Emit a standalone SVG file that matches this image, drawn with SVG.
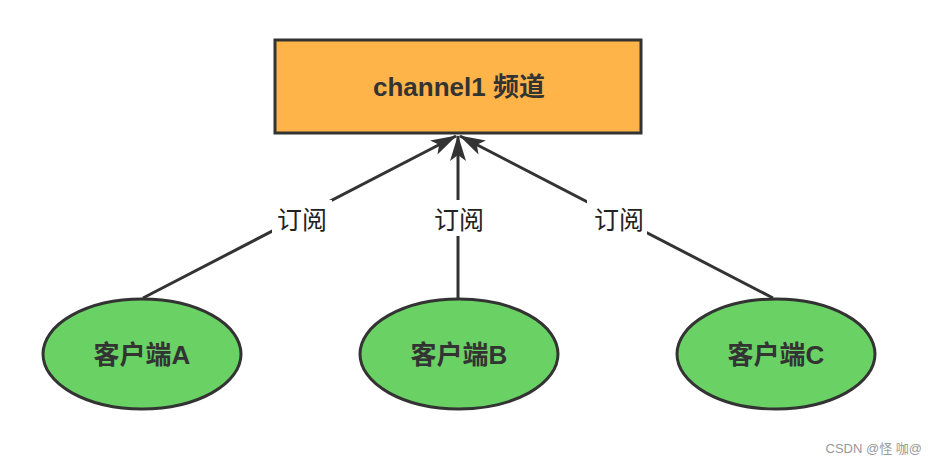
<svg xmlns="http://www.w3.org/2000/svg" width="936" height="465" viewBox="0 0 936 465">
<style>
.node{stroke:#333;stroke-width:3}
.t{font-family:"Liberation Sans","Noto Sans CJK SC",sans-serif;font-weight:bold;font-size:26px;fill:#333;text-anchor:middle;dominant-baseline:central}
.lbl{font-family:"Noto Sans CJK SC",sans-serif;font-size:25px;fill:#222;text-anchor:middle;dominant-baseline:central}
.edge{stroke:#333;stroke-width:3;fill:none}
</style>
<defs>
<marker id="arr" viewBox="0 0 26 16" refX="25" refY="8" markerWidth="26" markerHeight="16" orient="auto" markerUnits="userSpaceOnUse">
<path d="M0,0 L26,8 L0,16 L6,8 Z" fill="#333"/>
</marker>
</defs>
<rect width="936" height="465" fill="#fff"/>
<g id="connectors">
<line class="edge" x1="143" y1="298" x2="456" y2="136" marker-end="url(#arr)"/>
<line class="edge" x1="458" y1="298" x2="458" y2="136" marker-end="url(#arr)"/>
<line class="edge" x1="773" y1="298" x2="460" y2="136" marker-end="url(#arr)"/>
<rect x="272" y="200" width="60" height="36" fill="#fff"/>
<rect x="429" y="200" width="60" height="36" fill="#fff"/>
<rect x="587" y="200" width="60" height="36" fill="#fff"/>
<text class="lbl" x="302" y="218">订阅</text>
<text class="lbl" x="459" y="218">订阅</text>
<text class="lbl" x="619" y="218">订阅</text>
</g>
<g id="channel">
<rect class="node" x="275" y="40" width="366" height="93" fill="#FFB449"/>
<text class="t" x="459" y="87">channel1 频道</text>
</g>
<g id="clientA">
<ellipse class="node" cx="142" cy="354" rx="99" ry="55" fill="#6AD165"/>
<text class="t" x="142" y="355">客户端A</text>
</g>
<g id="clientB">
<ellipse class="node" cx="459" cy="354" rx="99" ry="55" fill="#6AD165"/>
<text class="t" x="459" y="355">客户端B</text>
</g>
<g id="clientC">
<ellipse class="node" cx="776" cy="354" rx="99" ry="55" fill="#6AD165"/>
<text class="t" x="776" y="355">客户端C</text>
</g>
<text x="922" y="453" font-family="'Liberation Sans','Noto Sans CJK SC',sans-serif" font-size="13" fill="#999" text-anchor="end">CSDN @怪 咖@</text>
</svg>
